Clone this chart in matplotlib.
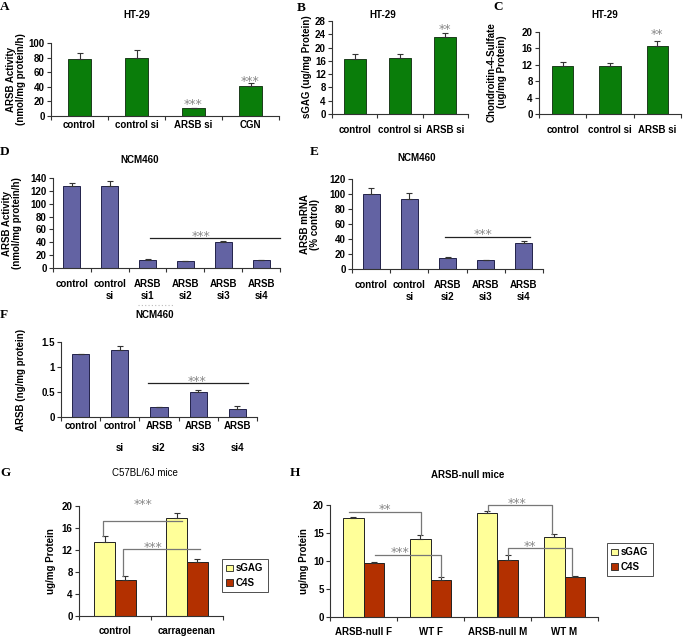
import matplotlib
matplotlib.use('Agg')
import matplotlib.pyplot as plt
from matplotlib.patches import Patch
import numpy as np

plt.rcParams['font.family'] = ['Liberation Sans', 'DejaVu Sans']
plt.rcParams['font.weight'] = 'bold'
plt.rcParams['font.size'] = 7

W, H = 683, 637

# ---- data ----
a_cats = ['control', 'control si', 'ARSB si', 'CGN']
a_vals = [77.6, 79.9, 10.5, 41.0]
a_err = [8.2, 10.1, 0.5, 4.0]

b_cats = ['control', 'control si', 'ARSB si']
b_vals = [16.7, 17.0, 23.2]
b_err = [1.3, 1.0, 1.3]

c_cats = ['control', 'control si', 'ARSB si']
c_vals = [11.8, 11.8, 16.5]
c_err = [1.0, 0.6, 1.4]

d_cats = ['control', 'control\nsi', 'ARSB\nsi1', 'ARSB\nsi2', 'ARSB\nsi3', 'ARSB\nsi4']
d_vals = [128, 128, 12.4, 10.9, 40.9, 12.4]
d_err = [3.7, 6.8, 1.6, 0.3, 1.0, 0.3]

e_cats = ['control', 'control\nsi', 'ARSB\nsi2', 'ARSB\nsi3', 'ARSB\nsi4']
e_vals = [100, 92.9, 14.7, 11.6, 34.2]
e_err = [7.6, 8.9, 0.9, 0.9, 2.8]

f_cats = ['control', 'control\nsi', 'ARSB\nsi2', 'ARSB\nsi3', 'ARSB\nsi4']
f_vals = [1.26, 1.35, 0.21, 0.50, 0.17]
f_err = [0.0, 0.07, 0.0, 0.05, 0.05]

g_groups = ['control', 'carrageenan']
g_sgag = [13.5, 17.9]
g_sgag_err = [1.0, 0.9]
g_c4s = [6.5, 9.8]
g_c4s_err = [0.8, 0.6]

h_groups = ['ARSB-null F', 'WT F', 'ARSB-null M', 'WT M']
h_sgag = [17.7, 13.9, 18.5, 14.3]
h_sgag_err = [0.15, 0.8, 0.5, 0.6]
h_c4s = [9.7, 6.6, 10.2, 7.1]
h_c4s_err = [0.1, 0.5, 0.9, 0.3]

series_names = ['sGAG', 'C4S']

GREEN = '#0a7d0a'
GREEN_EDGE = '#1c3d1c'
PURPLE = '#6363a3'
PURPLE_EDGE = '#22224a'
YELLOW = '#ffff99'
RED = '#b33000'
STAR = '#888888'
BRACKET = '#777777'

fig = plt.figure(figsize=(W / 100, H / 100), dpi=100)


def px_axes(l, r, t, b):
    return fig.add_axes([l / W, 1 - b / H, (r - l) / W, (b - t) / H])


def ftext(x, y, s, **kw):
    fig.text(x / W, 1 - y / H, s, **kw)


def style(ax, n, ymax, yticks, pad, ylabels=None):
    ax.set_xlim(-0.5, n - 0.5)
    ax.set_ylim(0, ymax)
    for sp in ['top', 'right']:
        ax.spines[sp].set_visible(False)
    for sp in ['left', 'bottom']:
        ax.spines[sp].set_linewidth(0.8)
        ax.spines[sp].set_color('#333333')
    ax.set_xticks(np.arange(-0.5, n), minor=True)
    ax.tick_params(axis='x', which='major', length=0, pad=pad)
    ax.tick_params(axis='x', which='minor', length=3, width=0.8, color='#333333')
    ax.tick_params(axis='y', length=3, width=0.8, color='#333333', pad=1.5)
    ax.set_yticks(yticks)
    if ylabels is not None:
        ax.set_yticklabels(ylabels)


def simple_bars(ax, cats, vals, err, width, color, edge):
    x = np.arange(len(cats))
    ax.bar(x, vals, width, color=color, edgecolor=edge, linewidth=0.7, zorder=2)
    ax.errorbar(x, vals, yerr=[np.zeros(len(err)), err], fmt='none',
                ecolor='#333333', elinewidth=0.8, capsize=2.5, capthick=0.8, zorder=3)
    ax.set_xticks(x)
    ax.set_xticklabels(cats)


def stars(ax, x, y, s):
    ax.annotate(s, (x, y), xytext=(0, -1.5), textcoords='offset points',
                ha='center', va='baseline', color=STAR, fontsize=9,
                family='DejaVu Sans', fontweight='normal',
                annotation_clip=False, zorder=5)


def line(ax, xs, ys, color):
    ax.plot(xs, ys, color=color, lw=0.9, clip_on=False, zorder=4)


def letter(x, y, s):
    ftext(x, y, s, family='Liberation Serif', weight='bold', size=9.5,
          ha='left', va='center')


def ylab(x, y, s):
    ftext(x, y, s, rotation=90, ha='center', va='center', multialignment='center',
          linespacing=1.1)


# ---- A ----
ax = px_axes(51, 279, 43, 116)
simple_bars(ax, a_cats, a_vals, a_err, 0.42, GREEN, GREEN_EDGE)
style(ax, 4, 100, [0, 20, 40, 60, 80, 100], 3)
stars(ax, 2, 14.2, '***')
stars(ax, 3, 45.5, '***')
letter(0, 7, 'A')
ftext(137, 15, 'HT-29', ha='center', va='center')
ylab(16, 79, 'ARSB Activity\n(nmol/mg protein/h)')

# ---- B ----
ax = px_axes(332, 468, 21, 114)
simple_bars(ax, b_cats, b_vals, b_err, 0.49, GREEN, GREEN_EDGE)
style(ax, 3, 28, list(range(0, 29, 4)), 8)
stars(ax, 2, 25.1, '**')
letter(297, 8, 'B')
ftext(383, 15, 'HT-29', ha='center', va='center')
ylab(307, 67, 'sGAG (ug/mg Protein)')

# ---- C ----
ax = px_axes(539, 681, 32, 114)
simple_bars(ax, c_cats, c_vals, c_err, 0.45, GREEN, GREEN_EDGE)
style(ax, 3, 20, list(range(0, 21, 4)), 8)
stars(ax, 2, 19.0, '**')
letter(493, 7, 'C')
ftext(605, 15, 'HT-29', ha='center', va='center')
ylab(497, 72, 'Chondroitin-4-Sulfate\n(ug/mg Protein)')

# ---- D ----
ax = px_axes(53, 280, 178, 268)
simple_bars(ax, d_cats, d_vals, d_err, 0.45, PURPLE, PURPLE_EDGE)
style(ax, 6, 140, list(range(0, 141, 20)), 8)
line(ax, [2.07, 5.5], [46.7, 46.7], '#222222')
stars(ax, 3.4, 47.5, '***')
letter(0, 152, 'D')
ftext(140, 160, 'NCM460', ha='center', va='center')
ylab(12, 223, 'ARSB Activity\n(nmol/mg protein/h)')

# ---- E ----
ax = px_axes(352, 543, 179, 269)
simple_bars(ax, e_cats, e_vals, e_err, 0.44, PURPLE, PURPLE_EDGE)
style(ax, 5, 120, list(range(0, 121, 20)), 8)
line(ax, [1.93, 4.16], [43, 43], '#222222')
stars(ax, 2.93, 43.8, '***')
letter(310, 152, 'E')
ftext(417, 158, 'NCM460', ha='center', va='center')
ylab(310, 224, 'ARSB mRNA\n(% control)')

# ---- F ----
ax = px_axes(61, 257, 342, 417)
simple_bars(ax, f_cats, f_vals, f_err, 0.44, PURPLE, PURPLE_EDGE)
style(ax, 5, 1.5, [0, 0.5, 1, 1.5], 3, ['0', '0.5', '1', '1.5'])
for t in ax.get_xticklabels():
    t.set_linespacing(2.5)
    t.set_va('top')
line(ax, [1.73, 4.27], [0.68, 0.68], '#222222')
stars(ax, 2.97, 0.69, '***')
letter(0, 315, 'F')
ftext(155, 315, 'NCM460', ha='center', va='center')
fig.add_artist(plt.Line2D([138 / W, 173 / W], [1 - 305 / H, 1 - 305 / H],
                          color='#bbbbbb', lw=0.8, ls=(0, (1, 2))))
ylab(21, 380, 'ARSB (ng/mg protein)')


# ---- grouped helper ----
def grouped(ax, groups, s1, e1, s2, e2, width):
    x = np.arange(len(groups))
    for off, vals, err, col in [(-width / 2, s1, e1, YELLOW), (width / 2, s2, e2, RED)]:
        ax.bar(x + off, vals, width, color=col, edgecolor='#222222', linewidth=0.7, zorder=2)
        ax.errorbar(x + off, vals, yerr=[np.zeros(len(err)), err], fmt='none',
                    ecolor='#333333', elinewidth=0.8, capsize=2.5, capthick=0.8, zorder=3)
    ax.set_xticks(x)
    ax.set_xticklabels(groups)


def legend(ax, x, y):
    handles = [Patch(facecolor=YELLOW, edgecolor='#222222', lw=0.6),
               Patch(facecolor=RED, edgecolor='#222222', lw=0.6)]
    lg = ax.legend(handles, series_names, loc='upper left',
                   bbox_to_anchor=(x / W, 1 - y / H), bbox_transform=fig.transFigure,
                   frameon=True, fancybox=False, edgecolor='#222222', fontsize=7,
                   handlelength=0.7, handleheight=0.7, handletextpad=0.3,
                   borderpad=0.45, labelspacing=0.45, borderaxespad=0)
    lg.get_frame().set_linewidth(0.7)


# ---- G ----
ax = px_axes(79, 223, 506, 616)
grouped(ax, g_groups, g_sgag, g_sgag_err, g_c4s, g_c4s_err, 0.29)
style(ax, 2, 20, list(range(0, 21, 4)), 7.5)
line(ax, [-0.16, -0.16, 0.93], [14.5, 17.3, 17.3], BRACKET)
stars(ax, 0.39, 20.1, '***')
line(ax, [0.115, 0.115, 1.18], [7.3, 12.1, 12.1], BRACKET)
stars(ax, 0.53, 12.2, '***')
legend(ax, 222, 559)
letter(0, 473, 'G')
ftext(145, 473, 'C57BL/6J mice', ha='center', va='center', fontweight='normal')
ylab(51, 561, 'ug/mg Protein')

# ---- H ----
ax = px_axes(330, 598, 505, 617)
grouped(ax, h_groups, h_sgag, h_sgag_err, h_c4s, h_c4s_err, 0.30)
style(ax, 4, 20, [0, 5, 10, 15, 20], 7.5)
line(ax, [-0.22, 0.86, 0.86], [18.8, 18.8, 14.7], BRACKET)
stars(ax, 0.32, 18.9, '**')
line(ax, [0.17, 1.16, 1.16], [11.1, 11.1, 7.1], BRACKET)
stars(ax, 0.54, 11.2, '***')
line(ax, [1.86, 1.86, 2.81, 2.81], [19.0, 20.0, 20.0, 14.9], BRACKET)
stars(ax, 2.29, 20.1, '***')
line(ax, [2.16, 2.16, 3.11, 3.11], [11.1, 12.3, 12.3, 7.4], BRACKET)
stars(ax, 2.49, 12.4, '**')
legend(ax, 607, 543)
letter(290, 473, 'H')
ftext(468, 475, 'ARSB-null mice', ha='center', va='center')
ylab(304, 561, 'ug/mg Protein')

fig.savefig('out.png', dpi=100)
